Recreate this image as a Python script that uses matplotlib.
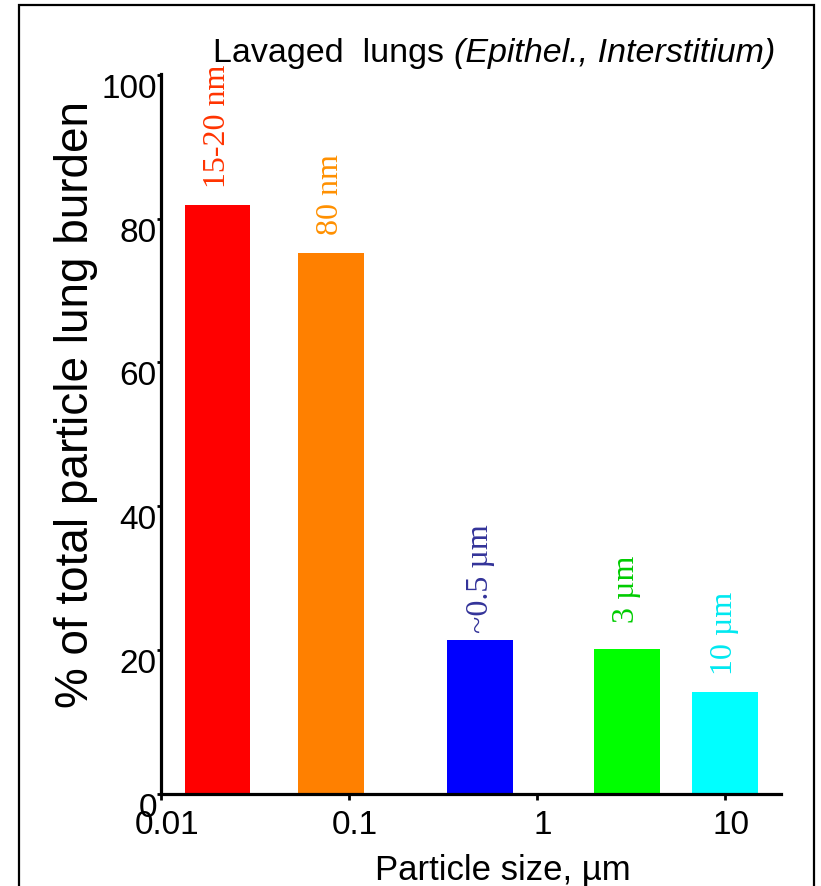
import matplotlib
matplotlib.use("Agg")
import matplotlib.pyplot as plt
import matplotlib.transforms as mtransforms
from matplotlib import font_manager
from matplotlib.patches import Rectangle

# particle sizes (um) and % of total particle lung burden
sizes = [0.02, 0.08, 0.5, 3, 10]
burden = [81.9, 75.2, 21.4, 20.2, 14.2]
size_labels = ["15-20 nm", "80 nm", "~0.5 \u00b5m", "3 \u00b5m", "10 \u00b5m"]
bar_colors = ["#ff0000", "#ff8000", "#0000ff", "#00ff00", "#00ffff"]
label_colors = ["#ff3300", "#ff9000", "#333399", "#00cc00", "#00e8f0"]
label_gaps = [13, 14, 6, 19, 13]  # points between bar top and label

xticks = [0.01, 0.1, 1, 10]
xticklabels = ["0.01", "0.1", "1", "10"]
yticks = [0, 20, 40, 60, 80, 100]


def pick_font(names):
    for name in names:
        try:
            font_manager.findfont(font_manager.FontProperties(family=name),
                                  fallback_to_default=False)
            return name
        except Exception:
            pass
    return "DejaVu Sans"


sans = pick_font(["Liberation Sans", "Arial"])
serif = pick_font(["Liberation Serif", "Times New Roman", "DejaVu Serif"])

fig = plt.figure(figsize=(8.21, 8.87), dpi=100)
ax = fig.add_axes([161 / 821, 1 - 795 / 887, (781 - 161) / 821, (795 - 75) / 887])

half = 10 ** 0.175
lefts = [s / half for s in sizes]
widths = [s * half - s / half for s in sizes]
ax.bar(lefts, burden, width=widths, align="edge", color=bar_colors, linewidth=0)
ax.set_xscale("log")
ax.set_xlim(0.01, 10 ** 1.298)
ax.set_ylim(0, 100.1)

for s, h, txt, c, gap in zip(sizes, burden, size_labels, label_colors, label_gaps):
    ax.annotate(txt, (s, h), xytext=(0, gap), textcoords="offset points",
                rotation=90, ha="center", va="bottom", color=c,
                fontsize=23, family=serif)

for side in ["top", "right"]:
    ax.spines[side].set_visible(False)
for side in ["left", "bottom"]:
    ax.spines[side].set_linewidth(2.3)

ax.set_xticks(xticks)
ax.set_xticklabels(xticklabels)
ax.minorticks_off()
ax.set_yticks(yticks)
ax.tick_params(axis="x", length=4, width=2, pad=7, labelsize=24)
ax.tick_params(axis="y", length=3, width=2, pad=0, labelsize=24)
for lab in ax.get_xticklabels() + ax.get_yticklabels():
    lab.set_family(sans)

# labels sit a little lower / right of their ticks in the original
dy = mtransforms.ScaledTranslation(0, -10 / 100, fig.dpi_scale_trans)
for lab in ax.get_yticklabels():
    lab.set_transform(lab.get_transform() + dy)
dx = mtransforms.ScaledTranslation(6 / 100, 0, fig.dpi_scale_trans)
for lab in ax.get_xticklabels():
    lab.set_transform(lab.get_transform() + dx)

fig.text(76 / 821, 1 - 405 / 887, "% of total particle lung burden",
         rotation=90, ha="center", va="center", fontsize=33, family=sans)
fig.text(503 / 821, 1 - 880 / 887, "Particle size, \u00b5m",
         ha="center", va="baseline", fontsize=25, family=sans)

# title: plain part + italic part
t1 = fig.text(213 / 821, 1 - 62 / 887, "Lavaged  lungs ", ha="left", va="baseline",
              fontsize=24.5, family=sans)
fig.canvas.draw()
bb = t1.get_window_extent(renderer=fig.canvas.get_renderer())
fig.text(bb.x1 / fig.bbox.width, 1 - 62 / 887, "(Epithel., Interstitium)",
         ha="left", va="baseline", fontsize=24.5, family=sans, style="italic")

# frame around the picture (bottom edge is cut off)
fig.add_artist(Rectangle((19 / 821, -0.05), (814 - 19) / 821, 0.05 + 1 - 6 / 887,
                         transform=fig.transFigure, fill=False,
                         edgecolor="black", linewidth=1.6))

plt.savefig("out.png", dpi=100)
plt.close()
